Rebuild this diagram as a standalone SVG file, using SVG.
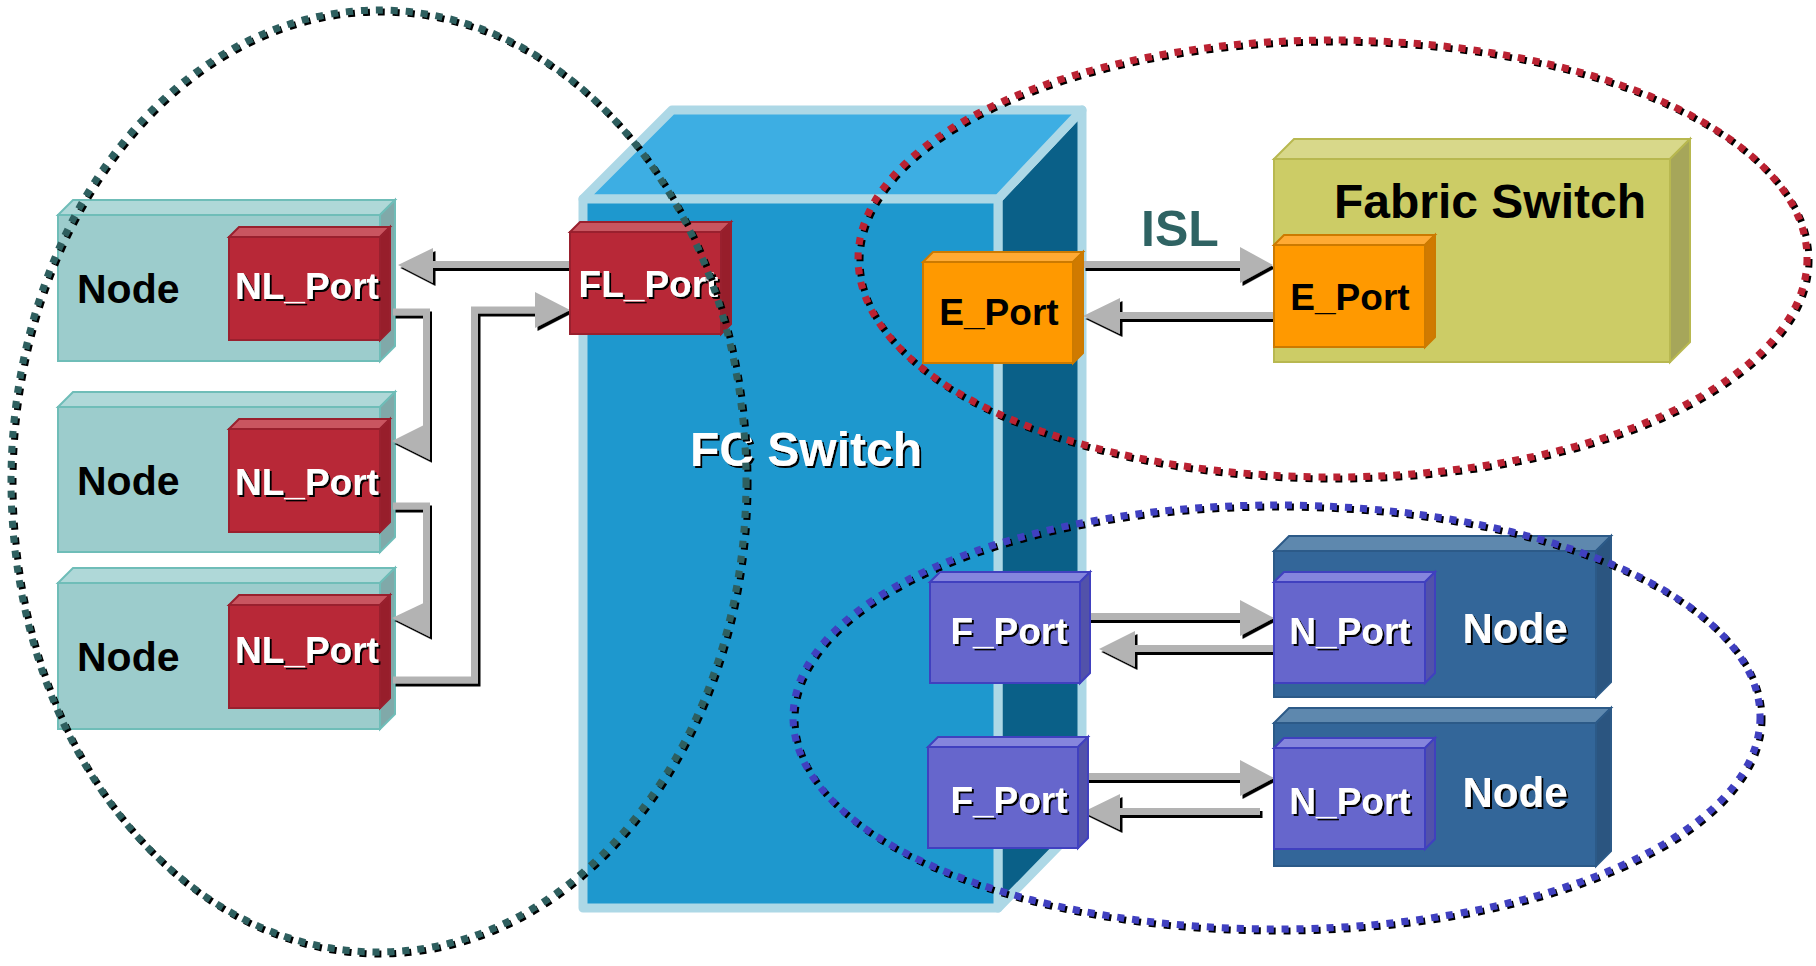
<svg xmlns="http://www.w3.org/2000/svg" width="1816" height="966" viewBox="0 0 1816 966">
<defs>
<filter id="ts" x="-10%" y="-10%" width="120%" height="130%"><feDropShadow dx="2" dy="2" stdDeviation="0" flood-color="#000" flood-opacity="1"/></filter>
<filter id="as" x="-5%" y="-5%" width="110%" height="115%"><feDropShadow dx="2.5" dy="3" stdDeviation="0" flood-color="#000" flood-opacity="1"/></filter>
<filter id="es" x="-5%" y="-5%" width="110%" height="110%"><feDropShadow dx="2" dy="2" stdDeviation="0" flood-color="#000" flood-opacity="1"/></filter>
</defs>
<style>
.lnF{fill:#9CCCCC;stroke:#6FBDB8;stroke-width:2}
.lnT{fill:#AFD8D8;stroke:#6FBDB8;stroke-width:2}
.lnS{fill:#80A9A9;stroke:#6FBDB8;stroke-width:2}
.rdF{fill:#B82837;stroke:#99202E;stroke-width:2}
.rdT{fill:#C95560;stroke:#99202E;stroke-width:2}
.rdS{fill:#971E2B;stroke:#99202E;stroke-width:2}
.orF{fill:#FF9900;stroke:#CC7A00;stroke-width:2}
.orT{fill:#FFAA33;stroke:#CC7A00;stroke-width:2}
.orS{fill:#D07A00;stroke:#CC7A00;stroke-width:2}
.puF{fill:#6666CC;stroke:#4040BF;stroke-width:2}
.puT{fill:#8585DD;stroke:#4040BF;stroke-width:2}
.puS{fill:#5252AA;stroke:#4040BF;stroke-width:2}
.nbF{fill:#336699;stroke:#2C5A88;stroke-width:2}
.nbT{fill:#5E88AE;stroke:#2C5A88;stroke-width:2}
.nbS{fill:#2B5580;stroke:#2C5A88;stroke-width:2}
.fsF{fill:#CCCC66;stroke:#B8B850;stroke-width:2}
.fsT{fill:#D8D88A;stroke:#B8B850;stroke-width:2}
.fsS{fill:#A6A65A;stroke:#B8B850;stroke-width:2}
.swF{fill:#1E98CE;stroke:#ADD8E6;stroke-width:9;stroke-linejoin:round}
.swT{fill:#3DAEE3;stroke:#ADD8E6;stroke-width:9;stroke-linejoin:round}
.swS{fill:#0A6088;stroke:#ADD8E6;stroke-width:9;stroke-linejoin:round}
text{font-family:"Liberation Sans",Arial,sans-serif;font-weight:bold}
.w{fill:#fff;font-size:37px;text-anchor:middle;filter:url(#ts)}
.b{fill:#000;font-size:37px;text-anchor:middle}
.nd{fill:#000;font-size:41px}
.ndw{fill:#fff;font-size:42px;text-anchor:middle;filter:url(#ts)}
.arr{fill:#B3B3B3}
.shaft{fill:none;stroke:#B3B3B3;stroke-width:7;stroke-linejoin:miter}
.ell{fill:none;stroke-width:7;stroke-dasharray:7 8;filter:url(#es)}
</style>
<rect width="1816" height="966" fill="#fff"/>

<g id="node-left-1">
<rect class="lnF" x="58" y="215" width="322" height="146"/>
<polygon class="lnT" points="58,215 73,200 395,200 380,215"/>
<polygon class="lnS" points="380,215 395,200 395,346 380,361"/>
<text class="nd" x="77" y="303">Node</text>
</g>
<g id="nl-port-1">
<rect class="rdF" x="229" y="237" width="151" height="103"/>
<polygon class="rdT" points="229,237 239,227 390,227 380,237"/>
<polygon class="rdS" points="380,237 390,227 390,330 380,340"/>
<text class="w" x="307" y="299">NL_Port</text>
</g>
<g id="node-left-2">
<rect class="lnF" x="58" y="407" width="322" height="145"/>
<polygon class="lnT" points="58,407 73,392 395,392 380,407"/>
<polygon class="lnS" points="380,407 395,392 395,537 380,552"/>
<text class="nd" x="77" y="495">Node</text>
</g>
<g id="nl-port-2">
<rect class="rdF" x="229" y="429" width="151" height="103"/>
<polygon class="rdT" points="229,429 239,419 390,419 380,429"/>
<polygon class="rdS" points="380,429 390,419 390,522 380,532"/>
<text class="w" x="307" y="495">NL_Port</text>
</g>
<g id="node-left-3">
<rect class="lnF" x="58" y="583" width="322" height="146"/>
<polygon class="lnT" points="58,583 73,568 395,568 380,583"/>
<polygon class="lnS" points="380,583 395,568 395,714 380,729"/>
<text class="nd" x="77" y="671">Node</text>
</g>
<g id="nl-port-3">
<rect class="rdF" x="229" y="605" width="151" height="103"/>
<polygon class="rdT" points="229,605 239,595 390,595 380,605"/>
<polygon class="rdS" points="380,605 390,595 390,698 380,708"/>
<text class="w" x="307" y="663">NL_Port</text>
</g>

<g id="fc-switch">
<polygon class="swS" points="998,199 1082,110 1082,822 998,908"/>
<polygon class="swT" points="583,199 672,110 1082,110 998,199"/>
<rect class="swF" x="583" y="199" width="415" height="709"/>
<text class="w" x="806" y="466" style="font-size:48px">FC Switch</text>
</g>

<g id="fabric-switch">
<rect class="fsF" x="1274" y="159" width="396" height="203"/>
<polygon class="fsT" points="1274,159 1294,139 1690,139 1670,159"/>
<polygon class="fsS" points="1670,159 1690,139 1690,342 1670,362"/>
<text x="1490" y="218" style="font-size:48px;text-anchor:middle;fill:#000">Fabric Switch</text>
</g>

<g id="node-right-1">
<rect class="nbF" x="1274" y="551" width="322" height="146"/>
<polygon class="nbT" points="1274,551 1289,536 1611,536 1596,551"/>
<polygon class="nbS" points="1596,551 1611,536 1611,682 1596,697"/>
<text class="ndw" x="1515" y="643">Node</text>
</g>
<g id="node-right-2">
<rect class="nbF" x="1274" y="723" width="322" height="143"/>
<polygon class="nbT" points="1274,723 1289,708 1611,708 1596,723"/>
<polygon class="nbS" points="1596,723 1611,708 1611,851 1596,866"/>
<text class="ndw" x="1515" y="807">Node</text>
</g>

<g id="connectors">
<g filter="url(#as)"><polygon class="arr" points="398,265 433,248 433,261 570,261 570,268 433,268 433,283"/></g>
<g filter="url(#as)"><path class="shaft" d="M393,312 H426.5 V432"/><polygon class="arr" points="392,441 430,422 430,460"/></g>
<g filter="url(#as)"><path class="shaft" d="M393,506 H426.5 V610"/><polygon class="arr" points="392,618 430,600 430,637"/></g>
<g filter="url(#as)"><path class="shaft" d="M393,680 H474.5 V310 H537"/><polygon class="arr" points="535,292 570,310 535,328"/></g>
<g filter="url(#as)"><polygon class="arr" points="1083,261 1240,261 1240,247 1273,265 1240,283 1240,268 1083,268"/></g>
<g filter="url(#as)"><polygon class="arr" points="1083,316 1120,298 1120,312 1274,312 1274,319 1120,319 1120,334"/></g>
<g filter="url(#as)"><polygon class="arr" points="1088,613 1240,613 1240,600 1274,618 1240,636 1240,620 1088,620"/></g>
<g filter="url(#as)"><polygon class="arr" points="1099,649 1135,631 1135,645 1274,645 1274,652 1135,652 1135,667"/></g>
<g filter="url(#as)"><polygon class="arr" points="1086,773 1240,773 1240,760 1274,778 1240,796 1240,780 1086,780"/></g>
<g filter="url(#as)"><polygon class="arr" points="1083,812 1120,794 1120,808 1260,808 1260,815 1120,815 1120,830"/></g>
</g>
<text x="1180" y="246" style="font-size:50px;text-anchor:middle;fill:#2F6363">ISL</text>

<g id="zone-isl">
<ellipse class="ell" cx="1332.5" cy="258.5" rx="474.5" ry="218.5" stroke="#BB2233"/>
</g>
<g id="zone-fabric">
<ellipse class="ell" cx="1276.5" cy="717" rx="483.5" ry="212" stroke="#4040C0"/>
</g>

<g id="fl-port">
<rect class="rdF" x="570" y="232" width="151" height="102"/>
<polygon class="rdT" points="570,232 580,222 731,222 721,232"/>
<polygon class="rdS" points="721,232 731,222 731,324 721,334"/>
<text class="w" x="648.5" y="297">FL_Port</text>
</g>
<g id="e-port-switch">
<rect class="orF" x="923" y="262" width="150" height="101"/>
<polygon class="orT" points="923,262 933,252 1083,252 1073,262"/>
<polygon class="orS" points="1073,262 1083,252 1083,353 1073,363"/>
<text class="b" x="999" y="325">E_Port</text>
</g>
<g id="e-port-fabric">
<rect class="orF" x="1274" y="245" width="151" height="102"/>
<polygon class="orT" points="1274,245 1284,235 1435,235 1425,245"/>
<polygon class="orS" points="1425,245 1435,235 1435,337 1425,347"/>
<text class="b" x="1350" y="310">E_Port</text>
</g>
<g id="f-port-1">
<rect class="puF" x="930" y="582" width="150" height="101"/>
<polygon class="puT" points="930,582 940,572 1090,572 1080,582"/>
<polygon class="puS" points="1080,582 1090,572 1090,673 1080,683"/>
<text class="w" x="1009" y="644">F_Port</text>
</g>
<g id="f-port-2">
<rect class="puF" x="928" y="747" width="150" height="101"/>
<polygon class="puT" points="928,747 938,737 1088,737 1078,747"/>
<polygon class="puS" points="1078,747 1088,737 1088,838 1078,848"/>
<text class="w" x="1009" y="813">F_Port</text>
</g>
<g id="n-port-1">
<rect class="puF" x="1274" y="582" width="151" height="101"/>
<polygon class="puT" points="1274,582 1284,572 1435,572 1425,582"/>
<polygon class="puS" points="1425,582 1435,572 1435,673 1425,683"/>
<text class="w" x="1350" y="644">N_Port</text>
</g>
<g id="n-port-2">
<rect class="puF" x="1274" y="748" width="151" height="101"/>
<polygon class="puT" points="1274,748 1284,738 1435,738 1425,748"/>
<polygon class="puS" points="1425,748 1435,738 1435,839 1425,849"/>
<text class="w" x="1350" y="814">N_Port</text>
</g>

<g id="zone-loop">
<ellipse class="ell" cx="378.5" cy="481" rx="367.5" ry="471" stroke="#2F5F5F"/>
</g>
</svg>
